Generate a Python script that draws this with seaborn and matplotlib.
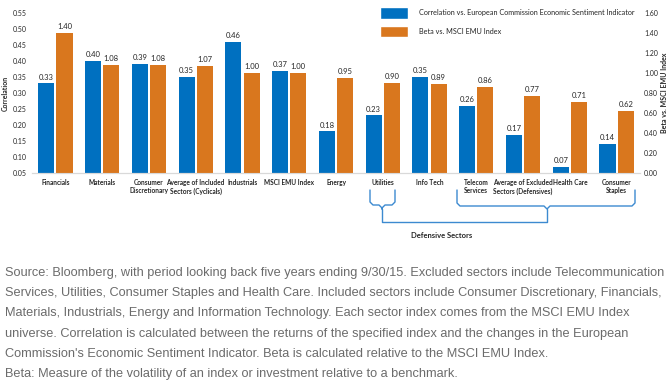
import numpy as np
import pandas as pd
import seaborn as sns
import matplotlib.pyplot as plt
from matplotlib.patches import Patch

# data
sectors = ['Financials', 'Materials', 'Consumer\nDiscretionary', 'Average of Included\nSectors (Cyclicals)',
           'Industrials', 'MSCI EMU Index', 'Energy', 'Utilities', 'Info Tech', 'Telecom\nServices',
           'Average of Excluded\nSectors (Defensives)', 'Health Care', 'Consumer\nStaples']
correlation = [0.33, 0.40, 0.39, 0.35, 0.46, 0.37, 0.18, 0.23, 0.35, 0.26, 0.17, 0.07, 0.14]
beta = [1.40, 1.08, 1.08, 1.07, 1.00, 1.00, 0.95, 0.90, 0.89, 0.86, 0.77, 0.71, 0.62]
series = ['Correlation vs. European Commission Economic Sentiment Indicator', 'Beta vs. MSCI EMU Index']
left_ticks = [0.05, 0.10, 0.15, 0.20, 0.25, 0.30, 0.35, 0.40, 0.45, 0.50, 0.55]
right_ticks = [0.00, 0.20, 0.40, 0.60, 0.80, 1.00, 1.20, 1.40, 1.60]

footnote = [
    "Source: Bloomberg, with period looking back five years ending 9/30/15. Excluded sectors include Telecommunication",
    "Services, Utilities, Consumer Staples and Health Care. Included sectors include Consumer Discretionary, Financials,",
    "Materials, Industrials, Energy and Information Technology. Each sector index comes from the MSCI EMU Index",
    "universe. Correlation is calculated between the returns of the specified index and the changes in the European",
    "Commission's Economic Sentiment Indicator. Beta is calculated relative to the MSCI EMU Index.",
    "Beta: Measure of the volatility of an index or investment relative to a benchmark.",
]

df = pd.DataFrame({
    'sector': sectors * 2,
    'series': [series[0]] * len(sectors) + [series[1]] * len(sectors),
    'value': correlation + beta,
})

blue = '#0070C0'
orange = '#D9771E'
brace_col = '#3C8AD0'
txt = '#262626'

sns.set_style('white')
plt.rcParams['font.family'] = ['Lato', 'DejaVu Sans']

W, H = 670, 391
fig = plt.figure(figsize=(W / 100, H / 100), dpi=100)
ax = fig.add_axes([32 / W, 1 - 173 / H, 608 / W, 160 / H])
ax2 = ax.twinx()

# both series go on each axis so the dodge is kept; the other series is left invisible
sns.barplot(data=df, x='sector', y='value', hue='series', hue_order=series, order=sectors,
            palette={series[0]: blue, series[1]: (1, 1, 1, 0)}, width=0.78, gap=0.12,
            saturation=1, legend=False, edgecolor='none', linewidth=0, ax=ax)
sns.barplot(data=df, x='sector', y='value', hue='series', hue_order=series, order=sectors,
            palette={series[0]: (1, 1, 1, 0), series[1]: orange}, width=0.78, gap=0.12,
            saturation=1, legend=False, edgecolor='none', linewidth=0, ax=ax2)

ax.bar_label(ax.containers[0], fmt='%.2f', fontsize=5.5, color=txt, padding=2)
ax2.bar_label(ax2.containers[1], fmt='%.2f', fontsize=5.5, color=txt, padding=2)

ax.set_ylim(0.05, 0.55)
ax.set_yticks(left_ticks)
ax.set_yticklabels([f'{t:.2f}' for t in left_ticks], fontsize=5, color=txt)
ax2.set_ylim(0, 1.6)
ax2.set_yticks(right_ticks)
ax2.set_yticklabels([f'{t:.2f}' for t in right_ticks], fontsize=5, color=txt)
ax.set_xlim(-0.5, len(sectors) - 0.5)
ax.set_xticks(range(len(sectors)))
ax.set_xticklabels(sectors, fontsize=4.7, fontweight='bold', color=txt, linespacing=1.3)
ax.tick_params(axis='both', length=0, pad=4)
ax2.tick_params(axis='both', length=0, pad=3)
ax.set_xlabel('')
ax.set_ylabel('Correlation', fontsize=5, fontweight='bold', color=txt, labelpad=3)
ax2.set_xlabel('')
ax2.set_ylabel('Beta vs. MSCI EMU Index', fontsize=5, fontweight='bold', color=txt, labelpad=2)

for a in (ax, ax2):
    for s in ['top', 'left', 'right']:
        a.spines[s].set_visible(False)
    a.spines['bottom'].set_color('#d9d9d9')
    a.spines['bottom'].set_linewidth(0.8)

handles = [Patch(facecolor=blue, label=series[0]), Patch(facecolor=orange, label=series[1])]
fig.legend(handles=handles, loc='upper left', bbox_to_anchor=(373 / W, 1 - 1 / H), frameon=False,
           fontsize=5.2, handlelength=4.0, handleheight=2.0, labelspacing=1.0, handletextpad=1.5,
           labelcolor=txt)


# braces drawn in pixel coordinates of the figure
def px(x, y):
    return x / W, 1 - y / H


def brace(x0, x1, xm, ytop, ybot, tip):
    r = 3
    xs = [x0, x0, x0 + r, xm - r, xm, xm, xm, xm + r, x1 - r, x1, x1]
    ys = [ytop, ybot - r, ybot, ybot, ybot + r, tip, ybot + r, ybot, ybot, ybot - r, ytop]
    pts = [px(a, b) for a, b in zip(xs, ys)]
    fig.add_artist(plt.Line2D([p[0] for p in pts], [p[1] for p in pts], color=brace_col, lw=1.0,
                              transform=fig.transFigure))


brace(370, 395, 382, 190, 205, 209)
brace(457, 635, 547, 190, 206, 209)
bx = [382, 382, 547, 547]
by = [209, 222, 222, 209]
fig.add_artist(plt.Line2D([px(a, b)[0] for a, b in zip(bx, by)], [px(a, b)[1] for a, b in zip(bx, by)],
                          color=brace_col, lw=1.0, transform=fig.transFigure))
fig.text(*px(442, 235), 'Defensive Sectors', fontsize=5.5, fontweight='bold', color=txt,
         ha='center', va='center')

for i, line in enumerate(footnote):
    fig.text(*px(5, 276 + i * 20.2), line, fontsize=9.2, color='#6b6b6b', family='Liberation Sans',
             ha='left', va='baseline')

fig.savefig('out.png', dpi=100)
